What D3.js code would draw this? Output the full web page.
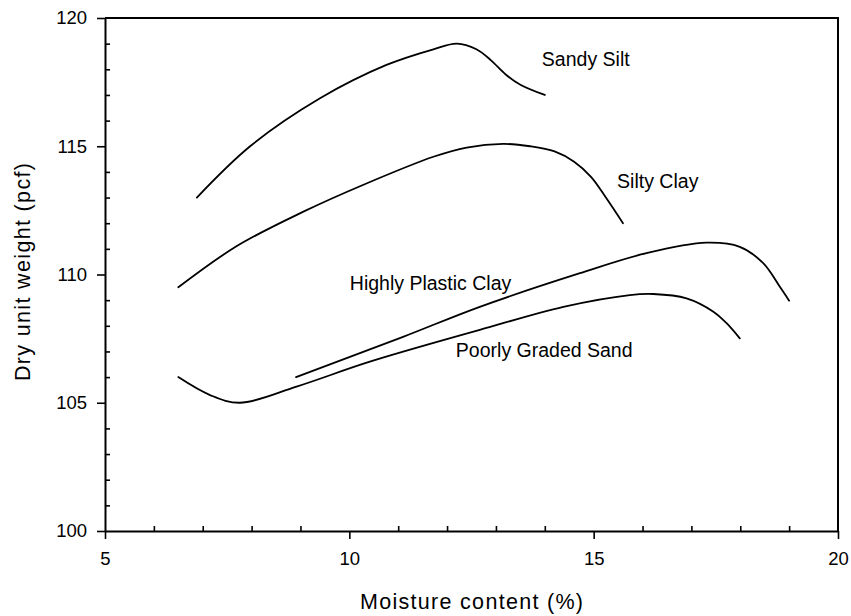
<!DOCTYPE html>
<html>
<head>
<meta charset="utf-8">
<script src="https://cdn.jsdelivr.net/npm/d3@7"></script>
<style>
  html, body { margin: 0; padding: 0; background: #fff; }
  svg { display: block; font-family: "Liberation Sans", Arial, sans-serif; }
</style>
</head>
<body>
<svg id="chart" width="851" height="616"></svg>
<script>
// Compaction curves: moisture content (%) vs dry unit weight (pcf)
const sandySiltX = [6.88, 7.97, 9.4, 10.76, 11.72, 12.2, 12.6, 12.9, 13.2, 13.5, 14.0];
const sandySiltY = [113.0, 115.0, 116.87, 118.17, 118.78, 119.0, 118.78, 118.35, 117.8, 117.4, 117.0];

const siltyClayX = [6.5, 7.69, 9.06, 10.29, 11.72, 12.4, 13.15, 13.7, 14.2, 14.6, 14.95, 15.25, 15.6];
const siltyClayY = [109.5, 111.1, 112.45, 113.5, 114.59, 114.95, 115.09, 115.0, 114.8, 114.4, 113.8, 113.0, 112.0];

const plasticClayX = [8.91, 11.1, 12.67, 14.72, 16.08, 17.31, 17.99, 18.47, 18.81, 19.0];
const plasticClayY = [106.0, 107.57, 108.74, 110.05, 110.83, 111.24, 111.08, 110.44, 109.52, 108.98];

const gradedSandX = [6.5, 7.15, 7.76, 8.92, 10.42, 12.67, 14.38, 15.74, 16.22, 16.9, 17.45, 17.72, 17.99];
const gradedSandY = [106.0, 105.3, 105.0, 105.63, 106.6, 107.84, 108.74, 109.2, 109.24, 109.07, 108.55, 108.1, 107.51];

const seriesNames = ["Sandy Silt", "Silty Clay", "Highly Plastic Clay", "Poorly Graded Sand"];
// where each curve's name is written, in data units (left edge, baseline)
const labelX = [13.94, 15.48, 10.01, 12.18];
const labelY = [118.13, 113.37, 109.4, 106.78];

const xMajorTicks = [5, 10, 15, 20];
const xMinorTicks = [6, 7, 8, 9, 11, 12, 13, 14, 16, 17, 18, 19];
const yMajorTicks = [100, 105, 110, 115, 120];
const yMinorTicks = [101, 102, 103, 104, 106, 107, 108, 109, 111, 112, 113, 114, 116, 117, 118, 119];

const xTitle = "Moisture content (%)";
const yTitle = "Dry unit weight (pcf)";

const margin = { left: 105, right: 13, top: 18, bottom: 85 };
const W = 851, H = 616;
const innerW = W - margin.left - margin.right;
const innerH = H - margin.top - margin.bottom;

const svg = d3.select("#chart");
svg.append("rect").attr("width", W).attr("height", H).attr("fill", "#fff");

const x = d3.scaleLinear().domain([5, 20]).range([0, innerW]);
const y = d3.scaleLinear().domain([100, 120]).range([innerH, 0]);

const g = svg.append("g").attr("transform", `translate(${margin.left},${margin.top})`);

// frame on top and right
g.append("path")
  .attr("d", `M0,0H${innerW}V${innerH}`)
  .attr("fill", "none").attr("stroke", "#000").attr("stroke-width", 2);

// major ticks outward, minor ticks inward
g.append("g").attr("transform", `translate(0,${innerH})`)
  .call(d3.axisBottom(x).tickValues(xMajorTicks).tickFormat(d3.format("d"))
    .tickSize(8).tickPadding(13).tickSizeOuter(0));
g.append("g").attr("transform", `translate(0,${innerH})`)
  .call(d3.axisBottom(x).tickValues(xMinorTicks).tickFormat("").tickSize(-5).tickSizeOuter(0))
  .call(a => a.select(".domain").remove());

g.append("g")
  .call(d3.axisLeft(y).tickValues(yMajorTicks).tickFormat(d3.format("d"))
    .tickSize(8).tickPadding(10).tickSizeOuter(0));
g.append("g")
  .call(d3.axisLeft(y).tickValues(yMinorTicks).tickFormat("").tickSize(-5).tickSizeOuter(0))
  .call(a => a.select(".domain").remove());

g.selectAll(".domain").attr("stroke-width", 2);
g.selectAll(".tick line").attr("stroke-width", 1.6);
g.selectAll(".tick text")
  .attr("font-family", "'Liberation Sans', Arial, sans-serif")
  .attr("font-size", 18.5).attr("fill", "#000");

// curves
const seriesX = [sandySiltX, siltyClayX, plasticClayX, gradedSandX];
const seriesY = [sandySiltY, siltyClayY, plasticClayY, gradedSandY];
const line = d3.line()
  .x(d => x(d[0])).y(d => y(d[1]))
  .curve(d3.curveCatmullRom.alpha(0.5));

seriesX.forEach((xs, i) => {
  const pts = xs.map((v, j) => [v, seriesY[i][j]]);
  g.append("path")
    .datum(pts)
    .attr("d", line)
    .attr("fill", "none")
    .attr("stroke", "#000")
    .attr("stroke-width", 1.8)
    .attr("stroke-linejoin", "round")
    .attr("stroke-linecap", "round");
});

// curve names
seriesNames.forEach((name, i) => {
  g.append("text")
    .attr("x", x(labelX[i]))
    .attr("y", y(labelY[i]))
    .attr("font-size", 19.5)
    .attr("fill", "#000")
    .text(name);
});

// axis titles
svg.append("text")
  .attr("x", margin.left + innerW / 2)
  .attr("y", 609)
  .attr("text-anchor", "middle")
  .attr("font-size", 21.5)
  .attr("textLength", 223)
  .attr("lengthAdjust", "spacing")
  .attr("fill", "#000")
  .text(xTitle);

svg.append("text")
  .attr("transform", `translate(29.5,272) rotate(-90)`)
  .attr("text-anchor", "middle")
  .attr("font-size", 21.5)
  .attr("textLength", 218)
  .attr("lengthAdjust", "spacing")
  .attr("fill", "#000")
  .text(yTitle);
</script>
</body>
</html>
